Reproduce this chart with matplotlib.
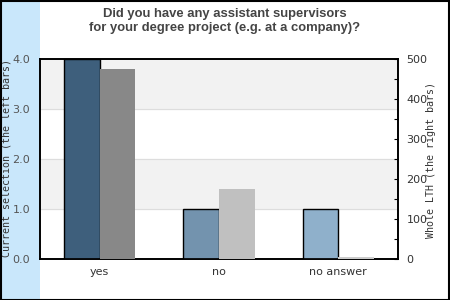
import matplotlib
matplotlib.use("Agg")
import matplotlib.pyplot as plt
from matplotlib.patches import Rectangle
import numpy as np

categories = ["yes", "no", "no answer"]
current = [4.0, 1.0, 1.0]
whole_lth = [475, 175, 5]
current_colors = ["#3e5f7c", "#7393ae", "#8fb0cb"]
whole_colors = ["#888888", "#c0c0c0", "#cccccc"]

W, H = 450, 300
fig = plt.figure(figsize=(4.5, 3), dpi=100)
fig.patch.set_facecolor("white")
fig.patches.append(Rectangle((0, 0), 40 / W, 1, transform=fig.transFigure,
                             facecolor="#c9e7fb", edgecolor="none", zorder=-1))
fig.patches.append(Rectangle((0.5 / W, 0.5 / H), 1 - 1.5 / W, 1 - 1.5 / H,
                             transform=fig.transFigure, facecolor="none",
                             edgecolor="black", linewidth=1.5, zorder=10))

ax = fig.add_axes([40 / W, 41 / H, 358 / W, 200 / H])
ax.set_facecolor("white")
x = np.arange(len(categories))
ax.set_xlim(-0.5, len(categories) - 0.5)
ax.set_ylim(0, 4)
for lo in (1, 3):
    ax.axhspan(lo, lo + 1, color="#f2f2f2", zorder=0)
for g in (1, 2, 3):
    ax.axhline(g, color="#dddddd", linewidth=0.8, zorder=0.5)

bw = 0.3
ax.bar(x - bw / 2, current, width=bw, color=current_colors,
       edgecolor="black", linewidth=1.0, zorder=3)

ax2 = ax.twinx()
ax2.set_ylim(0, 500)
ax2.bar(x + bw / 2, whole_lth, width=bw, color=whole_colors,
        edgecolor="none", zorder=3)

ax.set_xticks(x)
ax.set_xticklabels(categories, fontsize=8, color="#333333")
ax.tick_params(axis="x", length=0, pad=6)
ax.set_yticks([0, 1, 2, 3, 4])
ax.set_yticklabels(["0.0", "1.0", "2.0", "3.0", "4.0"], fontsize=8, color="#555555")
ax.tick_params(axis="y", length=0, pad=7)

ax2.set_yticks([0, 100, 200, 300, 400, 500])
ax2.set_yticks(np.arange(50, 500, 100), minor=True)
ax2.set_yticklabels(["0", "100", "200", "300", "400", "500"], fontsize=8, color="#333333")
ax2.tick_params(axis="y", which="both", length=3, direction="in", width=0.8, pad=6)

for a in (ax, ax2):
    for s in a.spines.values():
        s.set_color("black")
        s.set_linewidth(1.2)

fig.text(7 / W, 1 - 158 / H, "Current selection (the left bars)", rotation=90,
         ha="center", va="center", fontsize=7.2, family="DejaVu Sans Mono", color="#333333")
fig.text(431 / W, 1 - 160 / H, "Whole LTH (the right bars)", rotation=90,
         ha="center", va="center", fontsize=7.2, family="DejaVu Sans Mono", color="#333333")

fig.text(0.5, 1 - 21 / H,
         "Did you have any assistant supervisors\nfor your degree project (e.g. at a company)?",
         ha="center", va="center", fontsize=9.4, fontweight="bold",
         family="Liberation Sans", color="#444444", linespacing=1.2)

fig.savefig("out.png", dpi=100)
